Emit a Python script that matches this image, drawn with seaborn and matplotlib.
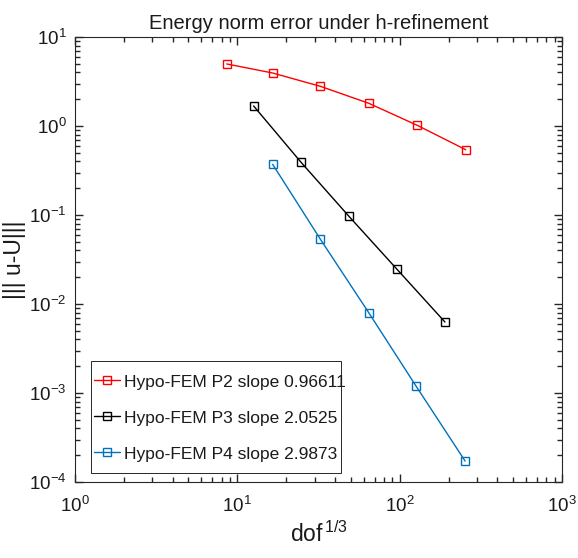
import numpy as np
import pandas as pd
import matplotlib
matplotlib.use("Agg")
import matplotlib.pyplot as plt
import matplotlib.patches as mpatches
import seaborn as sns
from matplotlib.ticker import LogLocator, NullFormatter

# data (x = dof^(1/3), y = energy norm error)
p2_dof = [8.6, 16.5, 32.5, 64.5, 128, 255]
p2_err = [4.98, 3.94, 2.79, 1.80, 1.02, 0.542]
p3_dof = [12.6, 24.6, 48.5, 96, 190]
p3_err = [1.68, 0.394, 0.0975, 0.0247, 0.00628]
p4_dof = [16.5, 32.5, 64.5, 126, 253]
p4_err = [0.371, 0.0533, 0.00798, 0.0012, 0.000172]

labels = ["Hypo-FEM P2 slope 0.96611",
          "Hypo-FEM P3 slope 2.0525",
          "Hypo-FEM P4 slope 2.9873"]
colors = ["#FF0000", "#000000", "#0072BD"]

sns.set_style("ticks")
plt.rcParams['font.family'] = ['Liberation Sans', 'DejaVu Sans']
plt.rcParams['mathtext.fontset'] = 'custom'
plt.rcParams['mathtext.rm'] = 'Liberation Sans'
plt.rcParams['mathtext.it'] = 'Liberation Sans'
plt.rcParams['xtick.direction'] = 'in'
plt.rcParams['ytick.direction'] = 'in'

fig = plt.figure(figsize=(5.78, 5.58), dpi=100)
ax = fig.add_axes([75/578, 76/558, 487/578, 445/558])

series = [(p2_dof, p2_err), (p3_dof, p3_err), (p4_dof, p4_err)]
for (x, y), lab, c in zip(series, labels, colors):
    df = pd.DataFrame({"dof": x, "err": y})
    sns.lineplot(data=df, x="dof", y="err", ax=ax, color=c, label=lab,
                 marker="s", markersize=6, markerfacecolor="none",
                 markeredgecolor=c, markeredgewidth=1.0, linewidth=1.0)

ax.set_xscale("log")
ax.set_yscale("log")
ax.set_xlim(1, 1000)
ax.set_ylim(1e-4, 10)

for axis in (ax.xaxis, ax.yaxis):
    axis.set_major_locator(LogLocator(base=10, numticks=100))
    axis.set_minor_locator(LogLocator(base=10, subs=np.arange(2, 10) * 1.0, numticks=100))
    axis.set_minor_formatter(NullFormatter())

ax.tick_params(which="both", direction="in", top=True, right=True,
               bottom=True, left=True, color="0.15", labelcolor="0.1", width=1.0)
ax.tick_params(which="major", length=6, labelsize=13.5)
ax.tick_params(axis="x", which="major", pad=10)
ax.tick_params(axis="y", which="major", pad=6)
ax.tick_params(which="minor", length=3.5)
for s in ax.spines.values():
    s.set_visible(True)
    s.set_color("0.15")
    s.set_linewidth(0.8)

ax.set_title("Energy norm error under h-refinement", fontsize=14.5, pad=6, color="0.1")
ax.set_xlabel(r"dof$^{\,1/3}$", fontsize=16.5, color="0.1", labelpad=4)
ax.set_ylabel("||| u-U|||", fontsize=16.5, color="0.1", labelpad=2)

# legend entries, with the box drawn separately (MATLAB-like padding)
leg = ax.legend(loc="lower left", bbox_to_anchor=(0.0396, 0.046), borderaxespad=0,
                borderpad=0, fontsize=12.5, frameon=False,
                handlelength=1.5, handletextpad=0.2, labelspacing=1.2)
for t in leg.get_texts():
    t.set_color("0.1")
box = mpatches.Rectangle((0.0322, 0.0202), 0.514, 0.2517, transform=ax.transAxes,
                         facecolor="white", edgecolor="0.15", linewidth=0.7, zorder=4)
ax.add_patch(box)
leg.set_zorder(5)

fig.savefig("out.png", dpi=100)
plt.close()
